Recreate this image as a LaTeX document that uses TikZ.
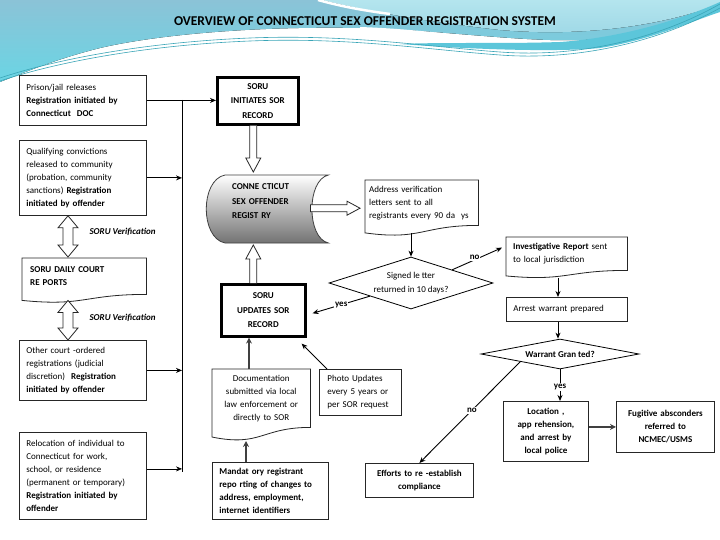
\documentclass[tikz,border=0pt]{standalone}
\usepackage{fontspec}
\setmainfont{Carlito}
\usetikzlibrary{arrows.meta,calc,shapes.geometric}
\pgfdeclarelayer{bg}
\pgfsetlayers{bg,main}
\definecolor{skyA}{HTML}{8BC3D7}
\definecolor{skyB}{HTML}{6AD5E4}
\definecolor{skyC}{HTML}{B4E5EE}
\definecolor{skyD}{HTML}{9ED8E6}
\definecolor{tealL}{HTML}{3AA5B7}
\definecolor{bandC}{HTML}{5CC6DA}
\newcommand\txtfont{\fontsize{9}{13}\selectfont}
\newcommand\boxfont{\fontsize{9}{14.5}\selectfont\bfseries}
\newcommand\ttlfont{\fontsize{13.5}{15}\selectfont\bfseries}
\newcommand\docshape[1]{%
  \path[docline] (#1.north west) -- (#1.north east) -- (#1.south east)
    .. controls (#1.south) and ($(#1.north)!1.337!(#1.south)$) ..
    ($(#1.north west)!1.165!(#1.south west)$) -- cycle;}
\newcommand\vdbl[2]{\draw[blockarr] let \p1=#1, \p2=#2 in
  (\x1,\y1) -- (\x1+10pt,\y1-12pt) -- (\x1+5pt,\y1-12pt) -- (\x1+5pt,\y2+12pt)
  -- (\x1+10pt,\y2+12pt) -- (\x1,\y2) -- (\x1-10pt,\y2+12pt) -- (\x1-5pt,\y2+12pt)
  -- (\x1-5pt,\y1-12pt) -- (\x1-10pt,\y1-12pt) -- cycle;}
\newcommand\blkdown[2]{\draw[blockarr] let \p1=#1, \p2=#2 in
  (\x1-3.5pt,\y1) -- (\x1-3.5pt,\y2+14pt) -- (\x1-7.5pt,\y2+14pt) -- (\x1,\y2)
  -- (\x1+7.5pt,\y2+14pt) -- (\x1+3.5pt,\y2+14pt) -- (\x1+3.5pt,\y1);}
\newcommand\blkup[2]{\draw[blockarr] let \p1=#1, \p2=#2 in
  (\x1-3.5pt,\y1) -- (\x1-3.5pt,\y2-14pt) -- (\x1-7.5pt,\y2-14pt) -- (\x1,\y2)
  -- (\x1+7.5pt,\y2-14pt) -- (\x1+3.5pt,\y2-14pt) -- (\x1+3.5pt,\y1);}
\newcommand\blkright[2]{\draw[blockarr] let \p1=#1, \p2=#2 in
  (\x1,\y1+3.5pt) -- (\x2-13pt,\y1+3.5pt) -- (\x2-13pt,\y1+7pt) -- (\x2,\y1)
  -- (\x2-13pt,\y1-7pt) -- (\x2-13pt,\y1-3.5pt) -- (\x1,\y1-3.5pt) -- cycle;}
\tikzset{
  box/.style={draw=black!85, line width=0.8pt, fill=white, anchor=north west,
    inner sep=0pt, font=\txtfont, align=left},
  thickbox/.style={draw=black, line width=2.6pt, fill=white, anchor=north west,
    inner sep=0pt, font=\boxfont, align=center},
  docbox/.style={anchor=north west, inner sep=0pt, font=\txtfont, align=left},
  docline/.style={draw=black!85, line width=0.8pt, fill=white},
  decision/.style={shape=diamond, draw=black, line width=0.8pt, fill=white,
    inner sep=0pt, font=\txtfont, align=center},
  conn/.style={draw=black, line width=0.9pt, -{Stealth[length=6pt,width=5pt]}},
  heavy/.style={draw=black!75, line width=1.8pt, -{Stealth[length=6pt,width=6pt]}},
  plain/.style={draw=black, line width=0.9pt},
  blockarr/.style={draw=black!85, line width=0.8pt, fill=white, line join=miter},
  lbl/.style={font=\txtfont\bfseries, fill=white, inner sep=1pt},
}
\begin{document}
\begin{tikzpicture}[x=1pt,y=-1pt]
\useasboundingbox (0,0) rectangle (720,540);
% ---------- background decoration ----------
\begin{pgfonlayer}{bg}
\fill[white] (0,0) rectangle (720,540);
\fill[top color=skyA, bottom color=skyB] (0,0) -- (720,0) -- (720,5)
  .. controls (690,20) and (640,38) .. (580,40)
  .. controls (520,42) and (440,30) .. (360,28)
  .. controls (260,26) and (160,34) .. (100,48)
  .. controls (60,58) and (30,70) .. (0,82) -- cycle;
\fill[top color=skyC, bottom color=skyD] (322,0)
  .. controls (370,12) and (430,22) .. (500,30)
  .. controls (570,36) and (650,30) .. (720,4) -- (720,0) -- cycle;
\draw[white, line width=2.5pt] (318,0) .. controls (340,6) and (360,10) .. (390,14);
\draw[white, line width=2pt] (360,28) .. controls (420,30) and (470,38) .. (515,42);
\fill[bandC] (400,44) .. controls (480,50) and (560,52) .. (600,48)
  .. controls (650,40) and (690,22) .. (720,12) -- (720,2)
  .. controls (680,20) and (620,38) .. (560,42)
  .. controls (500,44) and (450,42) .. (400,44) -- cycle;
\draw[tealL, line width=0.6pt] (0,78) .. controls (60,58) and (150,42) .. (250,38)
  .. controls (350,34) and (430,47) .. (500,52) .. controls (580,58) and (660,38) .. (720,4);
\draw[tealL, line width=0.6pt] (0,81) .. controls (60,61) and (150,45) .. (250,41)
  .. controls (350,37) and (430,50) .. (500,55) .. controls (580,61) and (660,41) .. (720,8);
\end{pgfonlayer}

\node[font=\ttlfont] (title) at (365,21) {OVERVIEW OF CONNECTICUT SEX OFFENDER REGISTRATION SYSTEM};

% ---------- left column ----------
\node[box, minimum width=127pt, minimum height=50pt, text width=113pt] (prison) at (19,75)
  {Prison/jail releases\\\textbf{Registration initiated by}\\\textbf{Connecticut\ \ DOC}};
\node[box, minimum width=127pt, minimum height=75pt, text width=113pt] (qual) at (19,140)
  {Qualifying convictions\\released to community\\(probation, community\\sanctions) \textbf{Registration}\\\textbf{initiated by offender}};
\node[docbox, minimum width=124pt, minimum height=36pt, text width=108pt] (daily) at (22,258)
  {\textbf{SORU DAILY COURT}\\\textbf{RE PORTS}};
\node[box, minimum width=127pt, minimum height=60pt, text width=113pt] (other) at (19,340)
  {Other court -ordered\\registrations (judicial\\discretion)\ \ \textbf{Registration}\\\textbf{initiated by offender}};
\node[box, minimum width=127pt, minimum height=87pt, text width=113pt] (reloc) at (19,432)
  {Relocation of individual to\\Connecticut for work,\\school, or residence\\(permanent or temporary)\\\textbf{Registration initiated by}\\\textbf{offender}};

% ---------- centre column ----------
\node[thickbox, minimum width=81pt, minimum height=47pt, text width=75pt] (init) at (216,76)
  {SORU\\INITIATES SOR\\RECORD};
\node[docbox, font=\boxfont, minimum width=122pt, minimum height=52pt, text width=70pt] (registry) at (206,175)
  {CONNE CTICUT\\SEX OFFENDER\\REGIST RY};
\node[thickbox, minimum width=84pt, minimum height=52pt, text width=78pt] (updates) at (220,283)
  {SORU\\UPDATES SOR\\RECORD};
\node[docbox, align=center, minimum width=98pt, minimum height=58pt, text width=92pt] (docu) at (212,369)
  {Documentation\\submitted via local\\law enforcement or\\directly to SOR};
\node[box, minimum width=82pt, minimum height=46pt, text width=66pt] (photo) at (319,369)
  {Photo Updates\\every 5 years or\\per SOR request};
\node[box, font=\txtfont\bfseries, minimum width=116pt, minimum height=57pt, text width=102pt] (mand) at (212,462)
  {Mandat ory registrant\\repo rting of changes to\\address, employment,\\internet identifiers};

% ---------- right part ----------
\node[docbox, minimum width=113pt, minimum height=45pt, text width=105pt] (addr) at (365,180)
  {Address verification\\letters sent to all\\registrants every 90 da\ \ ys};
\node[decision, aspect=3.15, minimum width=164pt, minimum height=52pt, font=\fontsize{9}{14}\selectfont] (sig) at (411,283)
  {Signed le tter\\returned in 10 days?};
\node[docbox, minimum width=121pt, minimum height=33pt, text width=107pt] (inv) at (506,237)
  {\textbf{Investigative Report} sent\\to local jurisdiction};
\node[box, minimum width=121pt, minimum height=24pt, text width=107pt] (arrest) at (506,297)
  {Arrest warrant prepared};
\node[decision, aspect=5.3, minimum width=158pt, minimum height=30pt, font=\txtfont\bfseries] (wg) at (560,354)
  {Warrant Gran ted?};
\node[box, align=center, font=\txtfont\bfseries, minimum width=108pt, minimum height=34pt, text width=102pt] (efforts) at (365,463)
  {Efforts to re -establish\\compliance};
\node[box, align=center, font=\txtfont\bfseries, minimum width=85pt, minimum height=60pt, text width=79pt] (loc) at (503,401)
  {Location ,\\app rehension,\\and arrest by\\local police};
\node[box, align=center, font=\txtfont\bfseries, minimum width=98pt, minimum height=51pt, text width=92pt] (fug) at (616,401)
  {Fugitive absconders\\referred to\\NCMEC/USMS};

% ---------- shapes drawn behind texts ----------
\begin{pgfonlayer}{bg}
\docshape{daily}
\docshape{docu}
\docshape{addr}
\docshape{inv}
\path[draw=black!75, line width=0.8pt, top color=white, bottom color=black!55]
  ($(registry.north west)+(19,0)$) -- (registry.north east)
  .. controls ($(registry.north east)+(-22,5)$) and ($(registry.north east)+(-22,63)$) .. ($(registry.north east)+(0,68)$)
  -- ($(registry.north west)+(19,68)$)
  .. controls ($(registry.north west)+(-6,63)$) and ($(registry.north west)+(-6,5)$) .. cycle;
\end{pgfonlayer}

% ---------- left bus ----------
\coordinate (bustop) at (182,100);
\coordinate (busbot) at (182,472);
\draw[plain] (bustop) -- (busbot);
\draw[conn] (prison.east) -- (prison.east -| init.west);
\draw[conn] (qual.east) -- (qual.east -| bustop);
\draw[conn] (other.east) -- (other.east -| bustop);
\coordinate (relo) at ($(reloc.east)+(0,-7)$);
\draw[conn, line width=0.6pt] (relo) -- (relo -| bustop);

% ---------- block arrows ----------
\vdbl{($(qual.south west)+(49,0)$)}{($(daily.north west)+(46,-1)$)}
\vdbl{($(daily.south west)+(46,6)$)}{($(other.north west)+(49,0)$)}
\node[anchor=west, font=\txtfont\bfseries\itshape] (ver1) at (86,232) {SORU Verification};
\node[anchor=west, font=\txtfont\bfseries\itshape] (ver2) at (86,318) {SORU Verification};
\blkdown{($(init.south)+(-4.5,0)$)}{($(registry.north)+(-15,-3)$)}
\blkup{($(updates.north)+(-10,0)$)}{($(registry.north)+(-15,70)$)}
\blkright{($(registry.east)+(-18,7)$)}{($(registry.east -| addr.west)+(-5,7)$)}

% ---------- centre connectors ----------
\coordinate (d1) at ($(docu.north west)+(37,0)$);
\draw[heavy] (d1) -- (d1 |- updates.south);
\coordinate (m1) at ($(mand.north west)+(34,0)$);
\draw[heavy] (m1) -- ($(docu.north west)+(34,72)$);
\draw[conn] ($(photo.north west)+(8,0)$) -- ($(updates.south east)+(-5,6)$);

% ---------- right connectors ----------
\coordinate (addrout) at ($(addr.south -| sig.north)+(0,8)$);
\draw[conn] (addrout) -- (sig.north);
\draw[conn] (sig.south west) -- node[lbl, pos=0.5] {yes} ($(updates.east)+(6,3)$);
\draw[conn] (sig.north east) -- node[lbl, pos=0.55, xshift=-5pt] {no} ($(inv.west)+(-4,-6)$);
\coordinate (invout) at ($(arrest.north west)+(52,-19)$);
\draw[conn] (invout) -- (invout |- arrest.north);
\coordinate (arrout) at ($(arrest.south west)+(52,0)$);
\draw[conn] (arrout) -- (arrout |- wg.north);
\draw[conn] (wg.south) -- node[lbl, pos=0.55] {yes} (wg.south |- loc.north);
\draw[conn] (wg.south west) -- node[lbl, pos=0.48] {no} (efforts.north);
\draw[heavy, line width=1.5pt] (loc.east |- fug.west) -- (fug.west);
\end{tikzpicture}
\end{document}
